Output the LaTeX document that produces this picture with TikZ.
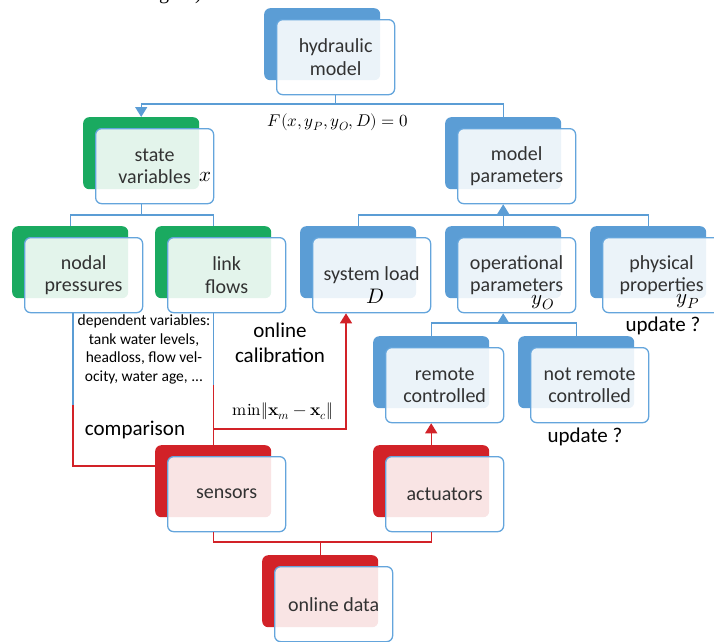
\documentclass[tikz,border=0pt]{standalone}
\usepackage{fontspec}
\usepackage{unicode-math}
\setmainfont{Carlito}
\newfontfamily\capfont{Liberation Serif}
\setmathfont{Latin Modern Math}
\usetikzlibrary{arrows.meta}
\definecolor{cblue}{RGB}{91,157,213}
\definecolor{cgreen}{RGB}{26,170,96}
\definecolor{cred}{RGB}{210,34,40}
\definecolor{cedge}{RGB}{100,165,220}
\definecolor{ctext}{RGB}{50,50,50}
\newcommand\twobox[5]{%
  \node[backbox=#2] (#1-b) at (#3,#4) {};
  \node[frontbox] (#1) at (#3+12,#4+11) {#5};}
\begin{document}
\begin{tikzpicture}[x=1pt,y=-1pt,
  backbox/.style={rounded corners=6pt, fill=#1, minimum width=116pt, minimum height=72pt, anchor=north west, inner sep=0pt, draw=none},
  frontbox/.style={rounded corners=6pt, draw=cedge, line width=1.3pt, fill=white, fill opacity=0.88, text opacity=1, minimum width=118pt, minimum height=75pt, anchor=north west, inner sep=0pt, align=center, text=ctext, font=\fontsize{20}{22.5}\selectfont},
  bl/.style={draw=cblue, line width=1.4pt},
  rd/.style={draw=cred, line width=1.4pt},
  tri/.style={-{Triangle[width=12pt,length=10pt]}},
  lbl/.style={anchor=base, inner sep=0pt, text=black},
  sym/.style={anchor=base, inner sep=0pt, text=black, font=\fontsize{21}{24}\selectfont},
]
\useasboundingbox (0,0) rectangle (714,641);
\node[anchor=base west, inner sep=0pt, font=\capfont\fontsize{20}{22}\selectfont] (cap) at (159,-1) {g\hspace{26pt})};

\twobox{hyd}{cblue}{264}{8}{hydraulic\\model}
\twobox{state}{cgreen}{83}{117}{state\\variables}
\twobox{model}{cblue}{445}{117}{model\\parameters}
\twobox{nodal}{cgreen}{12}{226}{nodal\\pressures}
\twobox{link}{cgreen}{155}{226}{link\\flows}
\twobox{sys}{cblue}{300}{226}{system load}
\twobox{oper}{cblue}{445}{226}{operational\\parameters}
\twobox{phys}{cblue}{590}{226}{physical\\properties}
\twobox{remote}{cblue}{373}{336}{remote\\controlled}
\twobox{notremote}{cblue}{518}{336}{not remote\\controlled}
\twobox{sensors}{cred}{155}{445}{sensors}
\twobox{act}{cred}{373}{445}{actuators}
\twobox{online}{cred}{262}{555}{online data}

% symbols
\node[sym] (sx) at (206,181) {$x$};
\node[sym] (sD) at (375,303) {$D$};
\node[sym] (syo) at (543,304) {$y_O$};
\node[sym] (syp) at (688,303) {$y_P$};
\node[lbl, font=\fontsize{17}{20}\selectfont] (eq) at (338,126) {$F(x,y_P,y_O,D)=0$};

% labels
\node[lbl, align=center, font=\fontsize{15.5}{18.5}\selectfont, anchor=north] (dep) at (144,315) {dependent variables:\\tank water levels,\\headloss, flow vel-\\ocity, water age, ...};
\node[lbl, align=center, font=\fontsize{21}{25}\selectfont, anchor=base] (calib) at (280,362) {online\\calibration};
\node[lbl, font=\fontsize{17}{20}\selectfont] (minx) at (283,415) {$\symup{min}\Vert\symbf{x}_m-\symbf{x}_c\Vert$};
\node[lbl, font=\fontsize{21}{25}\selectfont] (comp) at (135,435) {comparison};
\node[lbl, font=\fontsize{21}{25}\selectfont] (upd1) at (663,331) {update ?};
\node[lbl, font=\fontsize{21}{25}\selectfont] (upd2) at (585,442) {update ?};

% hydraulic model connectors
\coordinate (j1) at (hyd.south |- 0,104);
\draw[bl] (hyd.south) -- (j1);
\draw[bl,tri] (model-b.north) |- (j1) -| (state-b.north);

% state variables
\coordinate (j2) at (state-b.center |- 0,215);
\draw[bl] (state-b.center |- state.south) -- (j2);
\draw[bl] (nodal-b.north) |- (j2) -| (link-b.north);

% model parameters
\coordinate (j3) at (model-b.center |- 0,215);
\draw[bl] (sys-b.north) |- (j3) -| (phys-b.north);
\draw[bl,tri] (oper-b.north) -- (model-b.center |- model.south);

% operational parameters
\coordinate (j4) at (oper-b.center |- 0,323);
\draw[bl,tri] (j4) -- (oper-b.center |- oper.south);
\draw[bl] (remote-b.north) |- (j4) -| (notremote-b.north);

% nodal pressures -> sensors
\coordinate (c1) at (73,405);
\coordinate (c2) at (73,466);
\draw[bl] (c1 |- nodal.south) -- (c1);
\draw[rd] (c1) -- (c2) -- (c2 -| sensors-b.west);

% link flows -> sensors, online calibration
\coordinate (c3) at (link-b.center |- 0,385);
\draw[bl] (link-b.center |- link.south) -- (c3);
\draw[rd] (c3) -- (sensors-b.north);
\coordinate (c4) at (link-b.center |- 0,429);
\coordinate (c5) at (346,429);
\draw[rd,tri] (c4) -- (c5) -- (c5 |- sys.south);

% actuators -> remote controlled
\draw[rd,tri] (act-b.north) -- (remote-b.center |- remote.south);

% sensors / actuators -> online data
\coordinate (j5) at (sensors-b.center |- 0,542);
\coordinate (j6) at (online-b.center |- 0,542);
\draw[rd] (sensors-b.center |- sensors.south) -- (j5) -- (j5 -| act-b.center) -- (act-b.center |- act.south);
\draw[rd] (j6) -- (online-b.north);
\end{tikzpicture}
\end{document}
